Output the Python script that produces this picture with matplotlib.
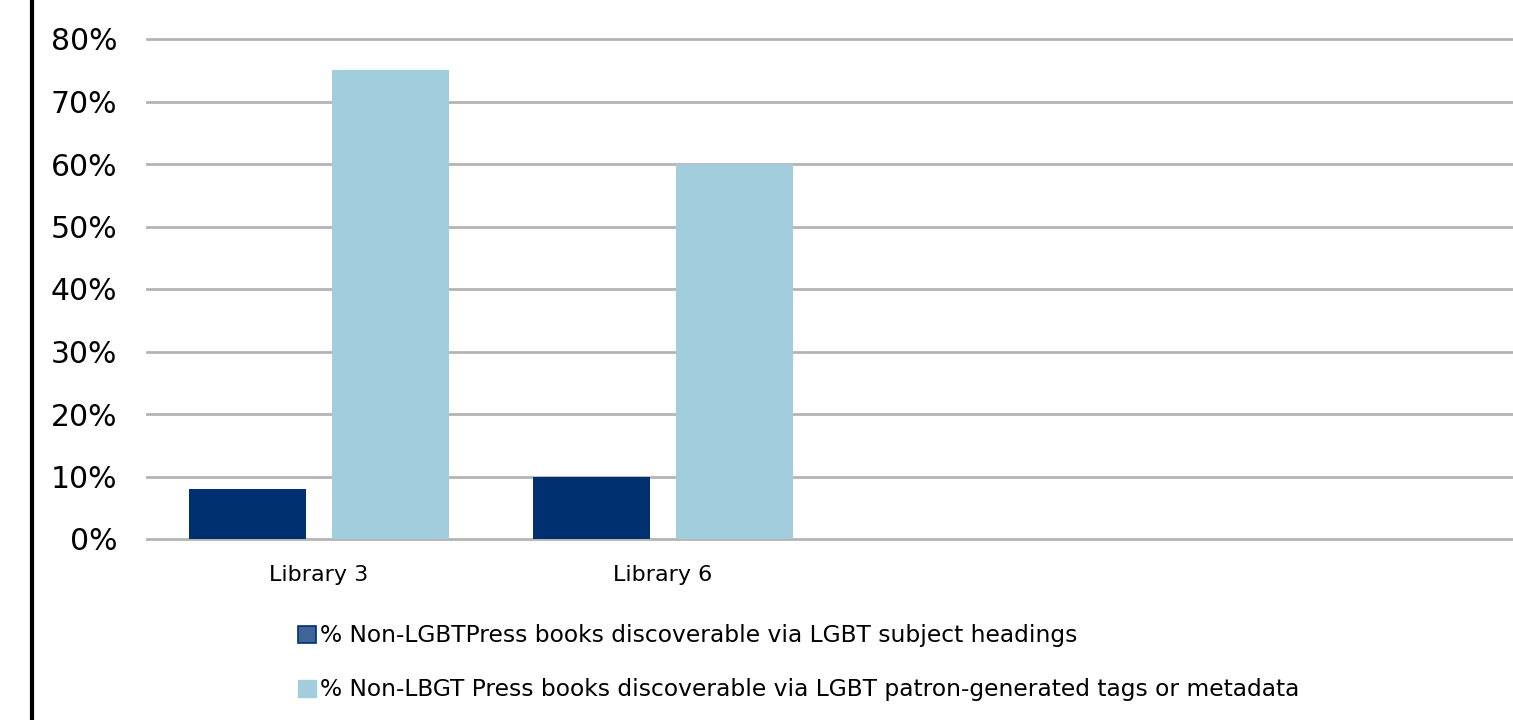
import numpy as np
import matplotlib.pyplot as plt
from matplotlib.patches import Patch
from matplotlib.lines import Line2D

# data
categories = ['Library 3', 'Library 6', '', '']
subject_headings = [0.08, 0.10]
patron_tags = [0.75, 0.60]
series_labels = ['% Non-LGBTPress books discoverable via LGBT subject headings',
                 '% Non-LBGT Press books discoverable via LGBT patron-generated tags or metadata']
yticks = [0.0, 0.1, 0.2, 0.3, 0.4, 0.5, 0.6, 0.7, 0.8]

dark = '#003070'
light = '#a2cddc'
grid_c = '#b4b4b4'

fig = plt.figure(figsize=(15.13, 7.2), dpi=100)
ax = fig.add_axes([147 / 1513, 1 - 539 / 720, 4 * 344 / 1513, 500 / 720])

x = np.arange(len(subject_headings))
w = 0.34
ax.bar(x - 0.209, subject_headings, w, color=dark, zorder=3)
ax.bar(x + 0.209, patron_tags, w, color=light, zorder=3)

ax.set_xlim(-0.5, len(categories) - 0.5)
ax.set_ylim(0, 0.8)
ax.set_xticks(np.arange(len(categories)))
ax.set_xticklabels(categories, fontsize=16)
ax.set_yticks(yticks)
ax.set_yticklabels(['%d%%' % round(v * 100) for v in yticks], fontsize=21.5)
ax.tick_params(axis='y', length=0, pad=21.5)
ax.tick_params(axis='x', length=0, pad=19)

ax.grid(axis='y', color=grid_c, linewidth=2, zorder=0)
for gl in ax.get_ygridlines():
    gl.set_clip_on(False)
for s in ax.spines.values():
    s.set_visible(False)

# black rule on the left edge
fig.add_artist(Line2D([32 / 1513, 32 / 1513], [0, 1], color='black', linewidth=3, transform=fig.transFigure))

handles = [Patch(facecolor='#3f6598', edgecolor=dark, linewidth=1.2),
           Patch(facecolor=light, edgecolor=light)]
fig.legend(handles, series_labels, loc='upper left', bbox_to_anchor=(289 / 1513, 1 - 615 / 720),
           frameon=False, fontsize=16.8, handlelength=0.75, handleheight=0.75, handletextpad=0.2,
           labelspacing=1.33, borderaxespad=0)

fig.savefig('out.png', dpi=100)
